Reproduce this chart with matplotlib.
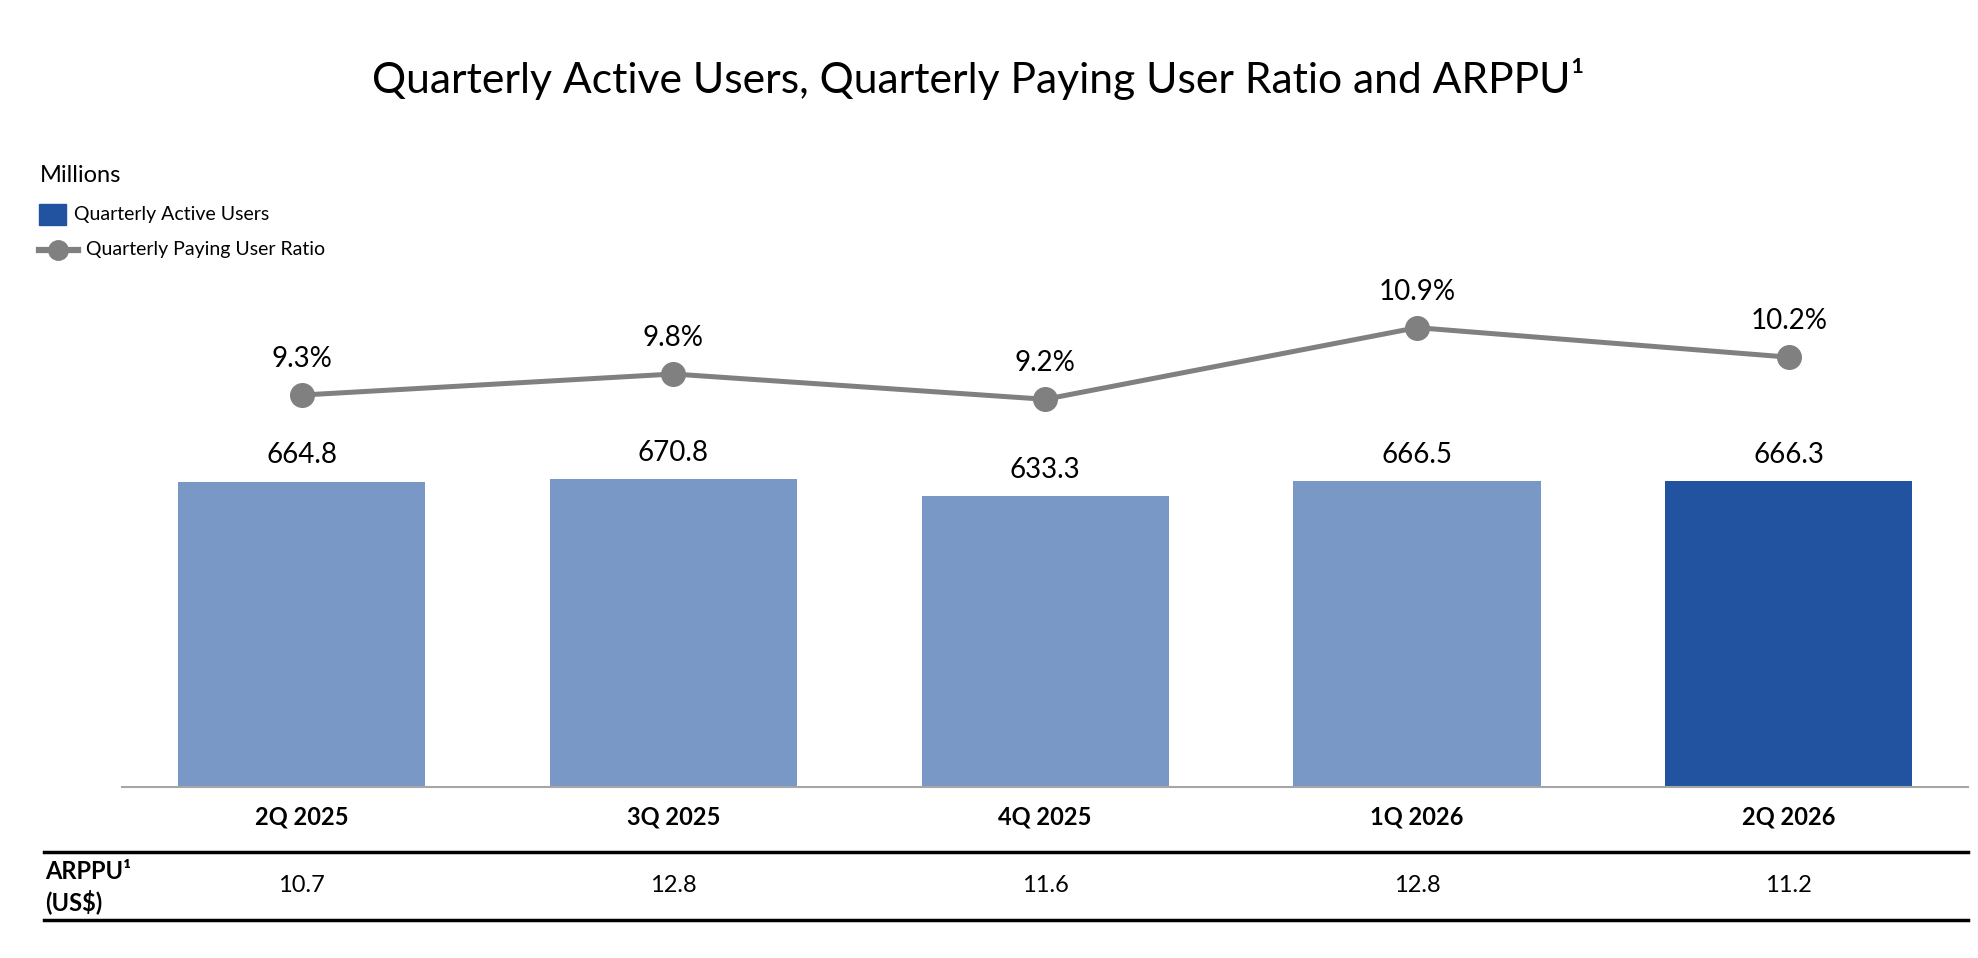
import matplotlib
matplotlib.use("Agg")
import matplotlib.pyplot as plt
from matplotlib.patches import Rectangle
from matplotlib.lines import Line2D

plt.rcParams['font.family'] = ['Lato', 'DejaVu Sans']

quarters = ["2Q 2025", "3Q 2025", "4Q 2025", "1Q 2026", "2Q 2026"]
active_users = [664.8, 670.8, 633.3, 666.5, 666.3]
paying_ratio = [9.3, 9.8, 9.2, 10.9, 10.2]
arppu = [10.7, 12.8, 11.6, 12.8, 11.2]

W, H = 1978, 958
fig = plt.figure(figsize=(W / 100, H / 100), dpi=100)

def fx(px):
    return px / W

def fy(py):
    return 1 - py / H

light = "#7A98C6"
dark = "#2253A0"
gray = "#808080"

ax = fig.add_axes([fx(122), fy(787), fx(1968) - fx(122), (787 - 277.5) / H])
x = list(range(len(quarters)))
colors = [light] * (len(quarters) - 1) + [dark]
bars = ax.bar(x, active_users, width=0.665, color=colors, zorder=2)
ax.set_xlim(-0.483, 4.482)
ax.set_ylim(0, 1110)
for s in ["top", "right", "left"]:
    ax.spines[s].set_visible(False)
ax.spines["bottom"].set_color("#A6A6A6")
ax.spines["bottom"].set_linewidth(1.5)
ax.set_yticks([])
ax.set_xticks(x)
ax.set_xticklabels(quarters, fontsize=17, fontweight="bold")
ax.tick_params(axis="x", length=0, pad=13)

for xi, v in zip(x, active_users):
    ax.annotate(f"{v:.1f}", (xi, v), xytext=(0, 19), textcoords="offset points",
                ha="center", va="center", fontsize=20, color="black")

ax2 = ax.twinx()
ax2.set_ylim(0, 12.09)
ax2.plot(x, paying_ratio, color=gray, lw=3.6, marker="o", ms=17, zorder=3)
ax2.axis("off")
for xi, v in zip(x, paying_ratio):
    ax2.annotate(f"{v:.1f}%", (xi, v), xytext=(0, 26), textcoords="offset points",
                 ha="center", va="center", fontsize=20, color="black")

# Title
fig.text(fx(978), fy(79.5), "Quarterly Active Users, Quarterly Paying User Ratio and ARPPU¹",
         ha="center", va="center", fontsize=30.7, color="black")

# Unit + legend
fig.text(fx(40), fy(175), "Millions", ha="left", va="center", fontsize=17)
fig.patches.append(Rectangle((fx(39), fy(225)), fx(66) - fx(39), (225 - 204) / H,
                             transform=fig.transFigure, color=dark, figure=fig))
fig.text(fx(74), fy(214.5), "Quarterly Active Users", ha="left", va="center", fontsize=14)
fig.lines.append(Line2D([fx(39), fx(78)], [fy(250), fy(250)], transform=fig.transFigure,
                        color=gray, lw=4.5, figure=fig))
fig.lines.append(Line2D([fx(58)], [fy(250)], transform=fig.transFigure, color=gray,
                        marker="o", ms=14, lw=0, figure=fig))
fig.text(fx(86), fy(250), "Quarterly Paying User Ratio", ha="left", va="center", fontsize=14)

# ARPPU table
fig.lines.append(Line2D([fx(44), fx(1968)], [fy(851.5), fy(851.5)], transform=fig.transFigure,
                        color="black", lw=2.5, figure=fig))
fig.lines.append(Line2D([fx(44), fx(1968)], [fy(919.6), fy(919.6)], transform=fig.transFigure,
                        color="black", lw=2.5, figure=fig))
fig.text(fx(45), fy(871.5), "ARPPU¹", ha="left", va="center", fontsize=17, fontweight="bold")
fig.text(fx(45), fy(902), "(US$)", ha="left", va="center", fontsize=17, fontweight="bold")
for xi, v in zip(x, arppu):
    xd = ax.transData.transform((xi, 0))[0]
    ax.annotate(f"{v:.1f}", (xi, 0), xycoords="data", xytext=(xd / W, fy(885.6)),
                textcoords="figure fraction", ha="center", va="center", fontsize=17,
                annotation_clip=False)

fig.savefig("out.png", dpi=100)
